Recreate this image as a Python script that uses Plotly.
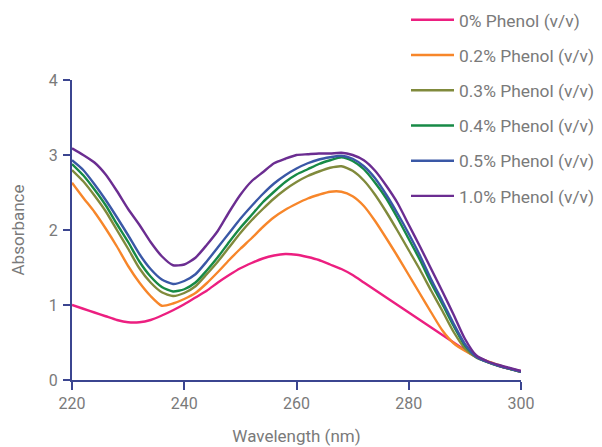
import plotly.graph_objects as go

wavelength = list(range(220, 301, 2))

a_0 = [1.00, 0.95, 0.90, 0.85, 0.80, 0.77, 0.77, 0.80, 0.86, 0.93, 1.01, 1.10, 1.19, 1.30, 1.40, 1.49, 1.56, 1.62, 1.66, 1.68, 1.67,
       1.64, 1.60, 1.54, 1.48, 1.40, 1.30, 1.20, 1.10, 1.00, 0.90, 0.80, 0.70, 0.60, 0.50, 0.40, 0.31, 0.25, 0.19, 0.15, 0.12]
a_02 = [2.63, 2.43, 2.24, 2.02, 1.78, 1.52, 1.30, 1.12, 0.99, 1.02, 1.08, 1.16, 1.29, 1.44, 1.60, 1.75, 1.89, 2.04, 2.17, 2.27, 2.35,
        2.42, 2.47, 2.51, 2.51, 2.45, 2.32, 2.12, 1.89, 1.65, 1.40, 1.15, 0.90, 0.66, 0.49, 0.39, 0.31, 0.25, 0.20, 0.15, 0.11]
a_03 = [2.80, 2.65, 2.46, 2.25, 2.00, 1.75, 1.49, 1.30, 1.17, 1.12, 1.16, 1.25, 1.41, 1.58, 1.77, 1.96, 2.13, 2.28, 2.42, 2.54, 2.64,
        2.72, 2.78, 2.83, 2.85, 2.79, 2.66, 2.47, 2.24, 1.99, 1.73, 1.47, 1.19, 0.92, 0.64, 0.42, 0.30, 0.24, 0.19, 0.15, 0.11]
a_04 = [2.88, 2.73, 2.54, 2.33, 2.08, 1.84, 1.58, 1.38, 1.24, 1.18, 1.21, 1.30, 1.46, 1.64, 1.84, 2.03, 2.20, 2.37, 2.51, 2.64, 2.74,
        2.81, 2.88, 2.93, 2.97, 2.92, 2.81, 2.63, 2.42, 2.16, 1.88, 1.60, 1.29, 1.01, 0.72, 0.46, 0.31, 0.24, 0.19, 0.15, 0.11]
a_05 = [2.93, 2.80, 2.61, 2.40, 2.17, 1.93, 1.68, 1.48, 1.34, 1.28, 1.32, 1.41, 1.58, 1.77, 1.96, 2.15, 2.32, 2.48, 2.62, 2.73, 2.82,
        2.89, 2.94, 2.97, 2.99, 2.95, 2.85, 2.69, 2.47, 2.22, 1.95, 1.66, 1.34, 1.05, 0.75, 0.48, 0.31, 0.24, 0.19, 0.15, 0.11]
a_10 = [3.09, 3.00, 2.90, 2.74, 2.52, 2.28, 2.07, 1.84, 1.65, 1.53, 1.54, 1.63, 1.80, 1.99, 2.24, 2.47, 2.65, 2.77, 2.89, 2.95, 3.00,
        3.01, 3.02, 3.02, 3.03, 3.00, 2.93, 2.79, 2.59, 2.36, 2.07, 1.78, 1.48, 1.18, 0.87, 0.55, 0.33, 0.25, 0.20, 0.16, 0.12]

series_names = ["0% Phenol (v/v)", "0.2% Phenol (v/v)", "0.3% Phenol (v/v)",
                "0.4% Phenol (v/v)", "0.5% Phenol (v/v)", "1.0% Phenol (v/v)"]
series_values = [a_0, a_02, a_03, a_04, a_05, a_10]
colors = ["#ec1f80", "#f7862a", "#808a3c", "#178a46", "#3a58a6", "#6b2d91"]

x_ticks = [220, 240, 260, 280, 300]
y_ticks = [0, 1, 2, 3, 4]

axis_color = "#3b4590"
text_color = "#7a7a7a"

# The page body keeps the browser's default 8 px margin, so the figure is
# sized and laid out to fit the 602x447 window from that offset.
fig_w, fig_h = 594, 439
ml, mb = 64, 67
paper_w = fig_w - ml
paper_h = fig_h - mb

fig = go.Figure()
for i, (name, vals, col) in enumerate(zip(series_names, series_values, colors)):
    fig.add_trace(go.Scatter(x=wavelength, y=vals, mode="lines", name=name,
                             line=dict(color=col, width=2.4, shape="spline", smoothing=0.6),
                             legendgroup=f"g{i}"))

fig.update_layout(
    width=fig_w, height=fig_h,
    margin=dict(l=ml, r=0, t=0, b=mb, autoexpand=False),
    plot_bgcolor="white", paper_bgcolor="white",
    font=dict(family="Roboto", color=text_color, size=16),
    legend=dict(x=(398 - ml) / paper_w, y=1 + 6 / paper_h, xanchor="left", yanchor="top",
                traceorder="grouped", tracegroupgap=9.6, itemwidth=43,
                font=dict(size=17.4, color=text_color), bgcolor="rgba(0,0,0,0)"),
    xaxis=dict(domain=[0, 449 / paper_w], range=[220, 300], tickvals=x_ticks, showgrid=False, zeroline=False,
               showline=True, linecolor=axis_color, linewidth=2,
               ticks="outside", ticklen=8, tickwidth=2, tickcolor=axis_color,
               tickfont=dict(size=16, color=text_color),
               title=dict(text="Wavelength (nm)", font=dict(size=17, color=text_color), standoff=18)),
    yaxis=dict(domain=[0, 300 / paper_h], range=[0, 4], tickvals=y_ticks, showgrid=False, zeroline=False,
               showline=True, linecolor=axis_color, linewidth=2,
               ticks="outside", ticklen=7, tickwidth=2, tickcolor=axis_color,
               ticklabelstandoff=2,
               tickfont=dict(size=16, color=text_color),
               title=dict(text="Absorbance", font=dict(size=17, color=text_color), standoff=23)),
)

fig.write_html("out.html")
